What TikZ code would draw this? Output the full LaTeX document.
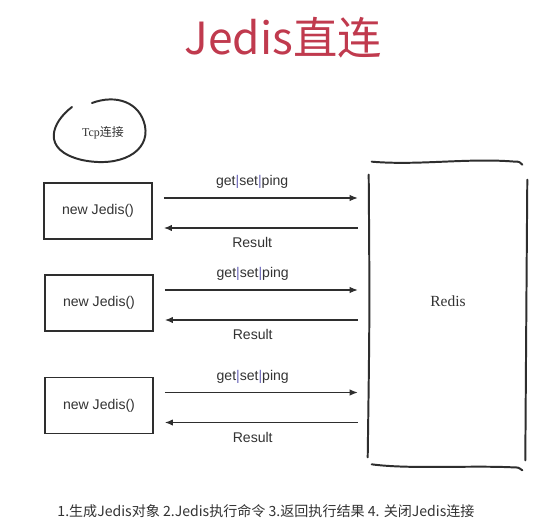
\documentclass[tikz,border=0pt]{standalone}
\usepackage{fontspec}
\setmainfont{Liberation Serif}
\setsansfont{Liberation Sans}
\newfontfamily\cjk{Noto Sans CJK SC}
\usetikzlibrary{arrows.meta, positioning, calc}
\definecolor{Canvas}{HTML}{FFFFFF}
\definecolor{Ink}{HTML}{2E2E2E}
\definecolor{Text}{HTML}{333333}
\definecolor{Title}{HTML}{C03A4E}
\definecolor{Bar}{HTML}{6A66B8}

\begin{document}
\begin{tikzpicture}[
  x=0.025cm, y=-0.025cm,
  font=\sffamily,
  client/.style={
    draw=Ink,
    line width=1.3pt,
    minimum width=2.7cm,
    minimum height=1.4cm,
    text=Text,
    font=\sffamily\fontsize{10}{12}\selectfont
  },
  server/.style={
    minimum width=3.95cm,
    minimum height=7.625cm,
    inner sep=0pt
  },
  sketch/.style={
    draw=Ink,
    line width=1.4pt,
    line cap=round
  },
  request/.style={
    -{Latex[length=2mm,width=1.6mm]},
    line width=0.8pt,
    draw=Ink,
    shorten <=0.275cm,
    shorten >=0.275cm
  },
  tag/.style={
    text=Text,
    font=\sffamily\fontsize{10}{12}\selectfont
  }
]

\fill[Canvas] (0,0) rectangle (546,532);

\node[text=Title, font=\cjk\fontsize{31.5}{36}\selectfont] (title) at (283,38)
  {Jedis直连};

% tcp loop, drawn by hand
\node[text=Text, font=\rmfamily\fontsize{8.5}{10}\selectfont] (tcp) at (103,133)
  {Tcp{\cjk 连接}};
\draw[sketch] (72,107) .. controls (52,122) and (40,150) .. (82,160)
  .. controls (120,168) and (150,152) .. (145,126)
  .. controls (140,102) and (116,94) .. (92,103);

% redis side
\node[server] (redis) at (448,314.5) {};
\node[text=Text, font=\rmfamily\fontsize{11}{13}\selectfont] (redistxt) at (448,301)
  {Redis};
\draw[sketch] ($(redis.north west)+(3,0)$) .. controls ($(redis.north west)+(50,4)$)
  and ($(redis.north west)+(100,-4)$) .. ($(redis.north east)+(-12,0)$)
  .. controls ($(redis.north east)+(-8,0)$) .. ($(redis.north east)+(-5,3)$);
\draw[sketch] ($(redis.north west)+(0,13)$) .. controls ($(redis.west)+(1,0)$)
  .. ($(redis.south west)+(-1,-10)$);
\draw[sketch] ($(redis.north east)+(0,18)$) .. controls ($(redis.east)+(-1,0)$)
  .. ($(redis.south east)+(-2,-7)$);
\draw[sketch] ($(redis.south west)+(3,-3)$) .. controls ($(redis.south west)+(40,2)$)
  and ($(redis.south west)+(100,-2)$) .. ($(redis.south east)+(-15,0)$)
  .. controls ($(redis.south east)+(-9,0)$) .. ($(redis.south east)+(-5,3)$);

% clients
\node[client] (j1) at (98,211) {new Jedis()};
\node[client] (j2) at (99,303) {new Jedis()};
\node[client] (j3) at (99,405.5) {new Jedis()};

\draw[request] ($(j1.east)+(0,-13)$) -- node[tag, pos=0.46, above=3pt]
  {get\textcolor{Bar}{|}set\textcolor{Bar}{|}ping} ($(j1.east -| redis.west)+(0,-13)$);
\draw[request] ($(j1.east -| redis.west)+(0,17)$) -- node[tag, pos=0.54, below=3pt]
  {Result} ($(j1.east)+(0,17)$);

\draw[request] ($(j2.east)+(0,-13)$) -- node[tag, pos=0.46, above=3pt]
  {get\textcolor{Bar}{|}set\textcolor{Bar}{|}ping} ($(j2.east -| redis.west)+(0,-13)$);
\draw[request] ($(j2.east -| redis.west)+(0,17)$) -- node[tag, pos=0.54, below=3pt]
  {Result} ($(j2.east)+(0,17)$);

\draw[request] ($(j3.east)+(0,-13)$) -- node[tag, pos=0.46, above=3pt]
  {get\textcolor{Bar}{|}set\textcolor{Bar}{|}ping} ($(j3.east -| redis.west)+(0,-13)$);
\draw[request] ($(j3.east -| redis.west)+(0,17)$) -- node[tag, pos=0.54, below=3pt]
  {Result} ($(j3.east)+(0,17)$);

\node[text=Text, font=\cjk\fontsize{10}{12}\selectfont] (steps) at (266,511)
  {1.生成Jedis对象 2.Jedis执行命令 3.返回执行结果 4. 关闭Jedis连接};

\end{tikzpicture}
\end{document}
